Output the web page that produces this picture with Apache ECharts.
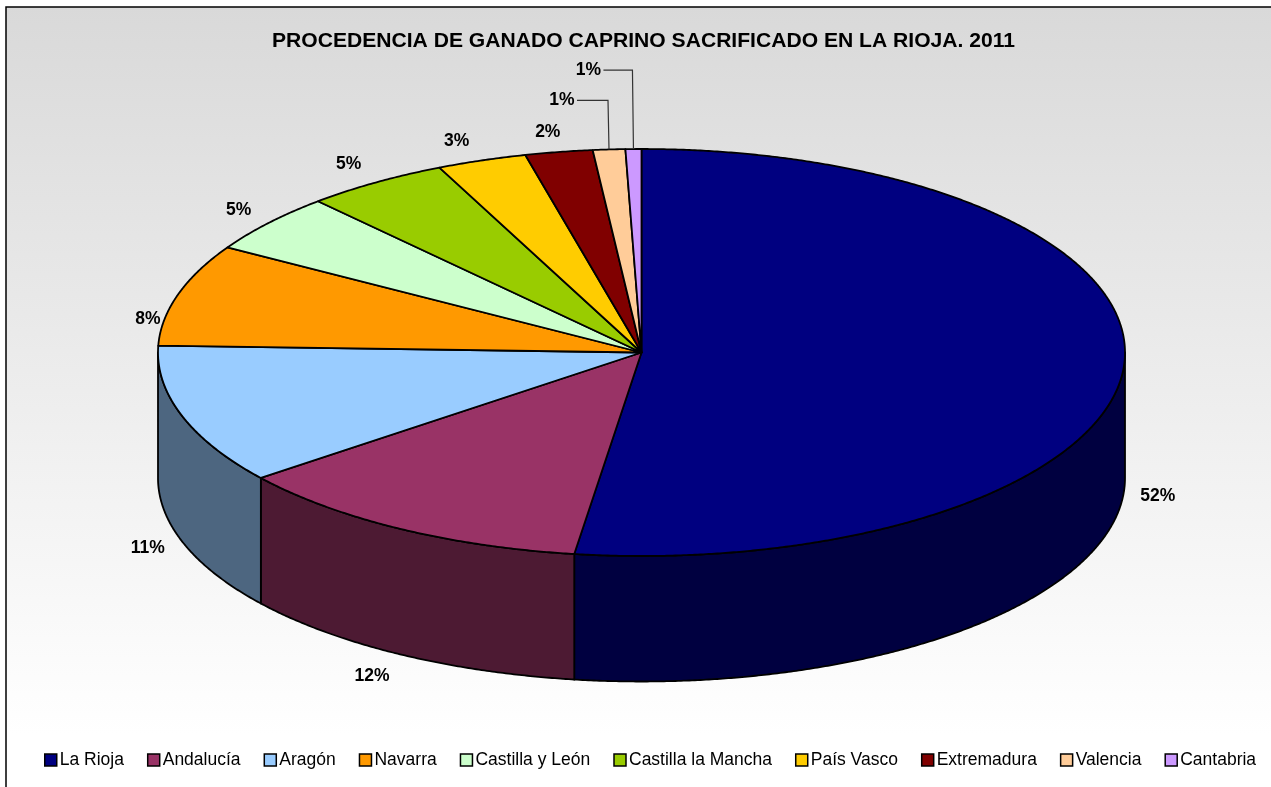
<!DOCTYPE html>
<html>
<head>
<meta charset="utf-8">
<title>Procedencia de ganado caprino</title>
<script src="https://cdn.jsdelivr.net/npm/echarts@6/dist/echarts.min.js"></script>
<style>
html, body { margin: 0; padding: 0; background: #fff; }
#chart { width: 1271px; height: 787px; }
</style>
</head>
<body>
<div id="chart"></div>
<script type="text/javascript">
var categories = ['La Rioja', 'Andalucía', 'Aragón', 'Navarra', 'Castilla y León', 'Castilla la Mancha', 'País Vasco', 'Extremadura', 'Valencia', 'Cantabria'];
var shares = [52.2, 12.2, 11.1, 8.1, 4.7, 4.8, 3.0, 2.25, 1.08, 0.53];
var topColors = ['#000080', '#993366', '#99ccff', '#ff9900', '#ccffcc', '#99cc00', '#ffcc00', '#800000', '#ffcc99', '#cc99ff'];
var wallColors = ['#000040', '#4d1a33', '#4d6680'];

// offset of each percentage label from the rim point at the middle of its slice
var labelOffsets = [[34, 129], [-28, 147], [-34, 133], [-30, 24], [-30, -13], [-27, -18], [-25, -19], [-11, -20], [-47, -49], [-45, -79]];
var leaderSlices = [8, 9];

// pie drawn as a squashed ellipse
var CX = 641.5, CY = 352.5, RX = 483.5, RY = 203.5, DEPTH = 125.5;
var total = shares.reduce(function (a, b) { return a + b; }, 0);

function rim(deg, dy) {
    var r = deg * Math.PI / 180;
    return [CX + RX * Math.sin(r), CY - RY * Math.cos(r) + (dy || 0)];
}

function arcPoints(from, to, dy) {
    var pts = [], n = Math.max(2, Math.ceil(Math.abs(to - from) * 3));
    for (var i = 0; i <= n; i++) {
        pts.push(rim(from + (to - from) * i / n, dy));
    }
    return pts;
}

function sliceRange(idx) {
    var before = 0;
    for (var i = 0; i < idx; i++) before += shares[i];
    return [before / total * 360, (before + shares[idx]) / total * 360];
}

var edge = { stroke: '#000', lineWidth: 1.8, lineJoin: 'round' };

function renderSlice(params, api) {
    var idx = params.seriesIndex;
    var range = sliceRange(idx);
    var children = [];

    // visible side wall, only between 90 and 270 degrees
    var a = Math.max(range[0], 90), b = Math.min(range[1], 270);
    if (a < b) {
        var wall = arcPoints(a, b, 0).concat(arcPoints(b, a, DEPTH));
        children.push({
            type: 'polygon',
            shape: { points: wall },
            style: Object.assign({ fill: wallColors[idx] }, edge)
        });
    }

    // top face
    var top = [[CX, CY]].concat(arcPoints(range[0], range[1], 0));
    children.push({
        type: 'polygon',
        shape: { points: top },
        style: Object.assign({ fill: api.visual('color') }, edge)
    });

    // percentage label
    var mid = (range[0] + range[1]) / 2;
    var p = rim(mid, 0);
    var off = labelOffsets[idx];
    var lx = p[0] + off[0], ly = p[1] + off[1];
    children.push({
        type: 'text',
        style: {
            x: lx, y: ly,
            text: Math.max(1, Math.round(api.value(0))) + '%',
            font: 'bold 17.5px "Liberation Sans", Arial, sans-serif',
            fill: '#000',
            align: 'center',
            verticalAlign: 'middle'
        }
    });

    // leader line for the thin slices
    if (leaderSlices.indexOf(idx) >= 0) {
        children.push({
            type: 'polyline',
            shape: { points: [[lx + 15, ly], [p[0] - 1, ly], [p[0], p[1]]] },
            style: { stroke: '#333', lineWidth: 1.2, fill: 'none' }
        });
    }
    return { type: 'group', children: children };
}

var series = categories.map(function (name, i) {
    return {
        name: name,
        type: 'custom',
        coordinateSystem: 'none',
        silent: true,
        animation: false,
        clip: false,
        itemStyle: { color: topColors[i] },
        renderItem: renderSlice,
        data: [[shares[i]]]
    };
});

var chart = echarts.init(document.getElementById('chart'), null, { renderer: 'canvas' });
chart.setOption({
    animation: false,
    backgroundColor: '#fff',
    graphic: [{
        type: 'rect',
        z: -1,
        shape: { x: 6, y: 7, width: 1280, height: 790 },
        style: {
            stroke: '#000',
            lineWidth: 1.5,
            fill: {
                type: 'linear', x: 0, y: 0, x2: 0, y2: 1,
                colorStops: [
                    { offset: 0, color: '#d9d9d9' },
                    { offset: 0.92, color: '#ffffff' },
                    { offset: 1, color: '#ffffff' }
                ]
            }
        }
    }],
    title: {
        text: 'PROCEDENCIA DE GANADO CAPRINO SACRIFICADO EN LA RIOJA. 2011',
        left: 638.5,
        textAlign: 'center',
        top: 26,
        textStyle: { fontFamily: '"Liberation Sans", Arial, sans-serif', fontWeight: 'bold', fontSize: 21.1, color: '#000' }
    },
    legend: {
        data: categories,
        left: 44,
        top: 751,
        padding: 0,
        width: 1225,
        itemWidth: 12,
        itemHeight: 12,
        itemGap: 23,
        icon: 'rect',
        selectedMode: false,
        itemStyle: { borderColor: '#000', borderWidth: 1.5 },
        textStyle: { fontFamily: '"Liberation Sans", Arial, sans-serif', fontSize: 17.5, color: '#000', padding: [0, 0, 0, -2] }
    },
    series: series
});
</script>
</body>
</html>
